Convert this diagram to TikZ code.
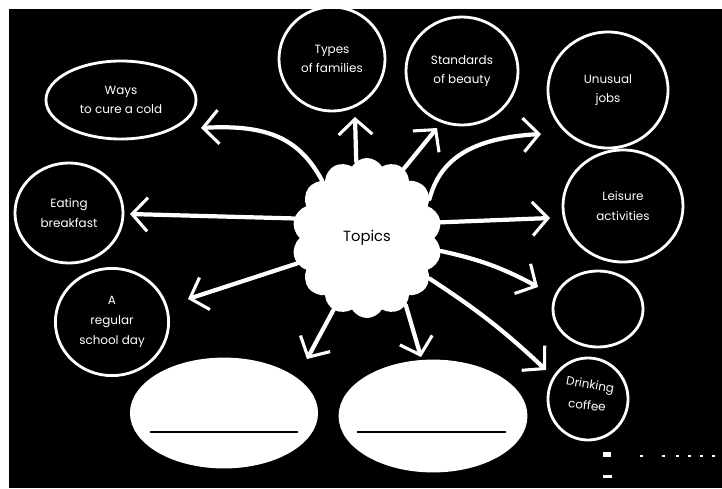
\documentclass[tikz,border=0pt]{standalone}
\usepackage{fontspec}
\setmainfont{Poppins}
\usetikzlibrary{arrows.meta, positioning, shapes.geometric, shapes.symbols}

\begin{document}
\begin{tikzpicture}[x=0.025cm, y=-0.025cm,
  bubble/.style={ellipse, draw=white, line width=2pt, text=white, align=center, inner sep=0pt, font=\fontsize{8.5}{14}\selectfont},
  blank/.style={ellipse, draw=white, fill=white, line width=2pt, inner sep=0pt},
  arr/.style={white, line width=3pt, line cap=round, -{Straight Barb[length=11pt, width=24pt, line width=2.2pt]}}]
  \useasboundingbox (0,0) rectangle (722,488);
  \fill[white] (0,0) rectangle (722,488);
  \fill[black] (9,9) rectangle (722,488);

  % centre
  \node[cloud, cloud puffs=14, cloud puff arc=120, aspect=0.95, fill=white, minimum width=3.75cm, minimum height=4cm, font=\fontsize{10.5}{12}\selectfont] (topics) at (367,238) {Topics};

  % topics round the centre
  \node[bubble, minimum width=3.75cm, minimum height=1.95cm] (cold) at (121,100) {Ways\\to cure a cold};
  \node[bubble, minimum width=2.65cm, minimum height=2.6cm] (families) at (332,59) {Types\\of families};
  \node[bubble, minimum width=2.8cm, minimum height=2.7cm] (beauty) at (462,71) {Standards\\of beauty};
  \node[bubble, minimum width=3cm, minimum height=2.9cm] (jobs) at (608,90) {Unusual\\jobs};
  \node[bubble, minimum width=3cm, minimum height=2.8cm] (leisure) at (623,206) {Leisure\\activities};
  \node[bubble, minimum width=2.25cm, minimum height=1.9cm] (empty) at (598,309) {};
  \node[bubble, minimum width=2cm, minimum height=2.05cm] (coffee) at (588,399) {};
  \node[text=white, rotate=-10, font=\fontsize{8.5}{12}\selectfont] (drinking) at (590,386) {Drinking};
  \node[text=white, rotate=-6, font=\fontsize{8.5}{12}\selectfont, below=-1pt of drinking.south, anchor=north] (cup) {coffee};
  \node[bubble, minimum width=2.7cm, minimum height=2.5cm] (breakfast) at (69,213) {Eating\\breakfast};
  \node[bubble, minimum width=2.83cm, minimum height=2.68cm] (school) at (112,322) {A\\regular\\school day};

  % blank ovals
  \node[blank, minimum width=4.63cm, minimum height=2.7cm] (blankA) at (224,413) {};
  \node[blank, minimum width=4.65cm, minimum height=2.75cm] (blankB) at (433,416) {};
  \draw[black, line width=1pt] (150,432) -- (298,432);
  \draw[black, line width=1pt] (357,432) -- (506,432);

  % arrow tips
  \coordinate (tcold) at (201,128);
  \coordinate (tbreakfast) at (130,214);
  \coordinate (tschool) at (188,299);
  \coordinate (tblankA) at (307,359);
  \coordinate (tblankB) at (421,357);
  \coordinate (tcoffee) at (546,370);
  \coordinate (tempty) at (538,287);
  \coordinate (tleisure) at (550,218);
  \coordinate (tjobs) at (541,134);
  \coordinate (tbeauty) at (437,128);
  \coordinate (tfamilies) at (355,117);

  \draw[arr] (topics.128) .. controls (300,140) and (270,124) .. (tcold);
  \draw[arr] (topics.165) -- (tbreakfast);
  \draw[arr] (topics.200) -- (tschool);
  \draw[arr] (topics.245) -- (tblankA);
  \draw[arr] (topics.300) -- (tblankB);
  \draw[arr] (topics.327) to[bend left=5] (tcoffee);
  \draw[arr] (topics.350) to[bend left=8] (tempty);
  \draw[arr] (topics.12) -- (tleisure);
  \draw[arr] (topics.32) .. controls (440,160) and (470,138) .. (tjobs);
  \draw[arr] (topics.62) -- (tbeauty);
  \draw[arr] (topics.98) -- (tfamilies);

  % specks bottom right
  \fill[white] (603,452) rectangle (611,457);
  \fill[white] (603,475) rectangle (612,478);
  \foreach \sx in {640,662,676,688,700,712}
    \fill[white] (\sx,455) rectangle +(3,2);
\end{tikzpicture}
\end{document}
